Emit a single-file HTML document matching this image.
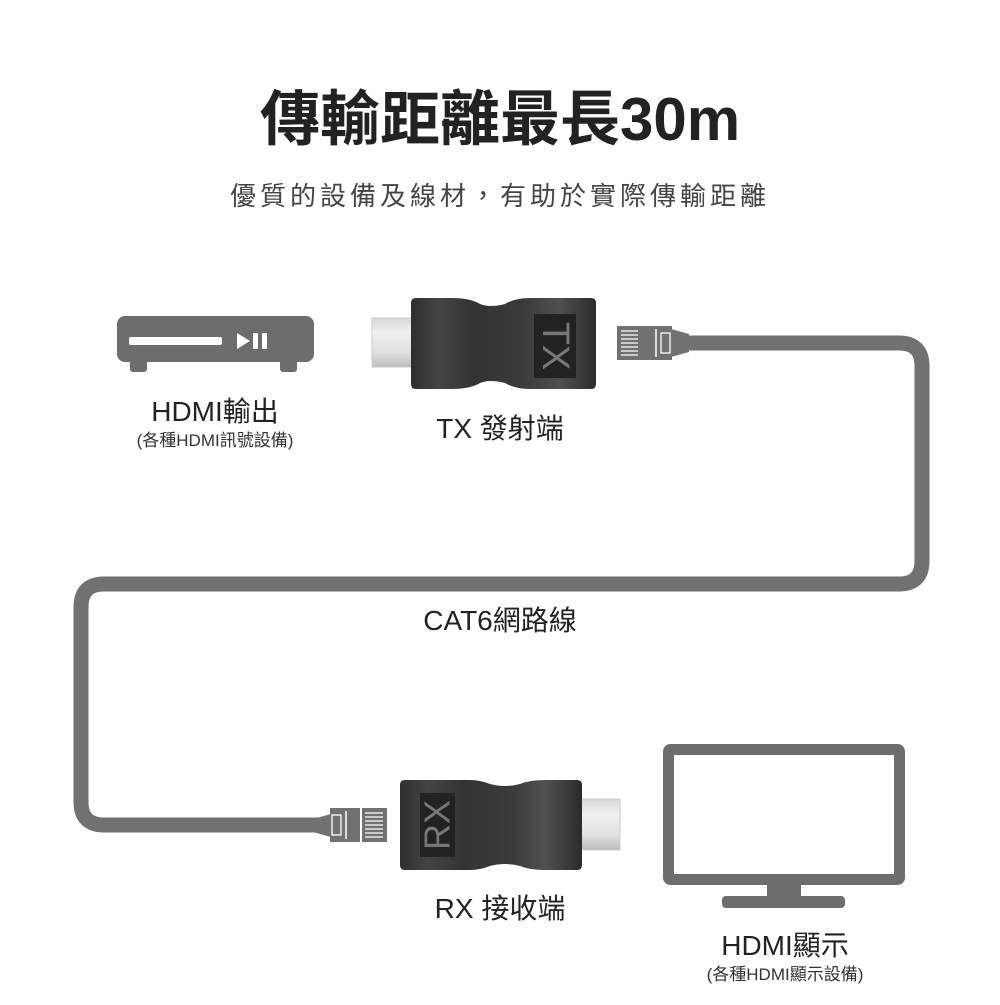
<!DOCTYPE html>
<html><head><meta charset="utf-8"><style>
body{margin:0;background:#fff;}
.t{font-family:"Liberation Sans","Noto Sans CJK TC",sans-serif;}
</style></head><body>
<svg width="1000" height="1000" viewBox="0 0 1000 1000" xmlns="http://www.w3.org/2000/svg">
<defs>
<linearGradient id="body" x1="0" y1="0" x2="1" y2="0">
<stop offset="0" stop-color="#2e2e2e"/><stop offset="0.15" stop-color="#444"/><stop offset="0.35" stop-color="#333"/><stop offset="0.6" stop-color="#3a3a3a"/><stop offset="0.8" stop-color="#505050"/><stop offset="1" stop-color="#2b2b2b"/>
</linearGradient>
<linearGradient id="plug" x1="0" y1="0" x2="0" y2="1">
<stop offset="0" stop-color="#d8d8d8"/><stop offset="0.3" stop-color="#f0f0f0"/><stop offset="0.7" stop-color="#e0e0e0"/><stop offset="1" stop-color="#bdbdbd"/>
</linearGradient>
</defs>
<text class="t" x="500" y="140" font-size="60" font-weight="bold" fill="#222" text-anchor="middle">傳輸距離最長30m</text>
<text class="t" x="500" y="205" font-size="26" fill="#444" text-anchor="middle" letter-spacing="4">優質的設備及線材，有助於實際傳輸距離</text>

<!-- set-top box -->
<rect x="117" y="316" width="197" height="46" rx="8" fill="#6d6d6d"/>
<rect x="130" y="355" width="17" height="17" rx="3" fill="#6d6d6d"/>
<rect x="280" y="355" width="17" height="17" rx="3" fill="#6d6d6d"/>
<rect x="129" y="337" width="93" height="8" rx="2" fill="#fff"/>
<polygon points="237,333 237,349 250,341" fill="#fff"/>
<rect x="253" y="333" width="5" height="16" rx="1" fill="#fff"/>
<rect x="262" y="333" width="5" height="16" rx="1" fill="#fff"/>

<!-- cable -->
<path d="M680,343 H899 Q922,343 922,366 V561 Q922,584 899,584 H104 Q81,584 81,607 V802 Q81,825 104,825 H330" fill="none" stroke="#717171" stroke-width="15"/>

<!-- TX plug -->
<rect x="617" y="326" width="25" height="34" fill="#717171"/>
<g stroke="#fff" stroke-width="1.3">
<line x1="621" y1="331" x2="638" y2="331"/><line x1="621" y1="335" x2="638" y2="335"/><line x1="621" y1="339" x2="638" y2="339"/><line x1="621" y1="343" x2="638" y2="343"/><line x1="621" y1="347" x2="638" y2="347"/><line x1="621" y1="351" x2="638" y2="351"/><line x1="621" y1="355" x2="638" y2="355"/>
</g>
<rect x="642" y="326" width="30" height="34" fill="#717171"/>
<line x1="656" y1="329" x2="656" y2="357" stroke="#fff" stroke-width="1.5"/>
<rect x="661" y="333" width="9" height="20" fill="none" stroke="#fff" stroke-width="1.3"/>
<polygon points="671,329 689,334 689,352 671,357" fill="#717171"/>

<!-- TX adapter -->
<rect x="372" y="318" width="44" height="49" fill="url(#plug)" stroke="#ccc"/>
<path d="M416,298 H452 Q470,298 480,304 Q490,308 505,304 Q515,298 530,298 H591 Q596,298 596,303 V384 Q596,389 591,389 H530 Q515,389 505,383 Q490,379 480,383 Q470,389 452,389 H416 Q411,389 411,384 V303 Q411,298 416,298 Z" fill="url(#body)"/>
<rect x="534" y="314" width="42" height="64" fill="#222"/>
<text class="t" x="555" y="346" font-size="38" fill="#777" text-anchor="middle" dominant-baseline="central" transform="rotate(90 555 346)">TX</text>

<!-- RX plug -->
<polygon points="331,814 313,819 313,832 331,837" fill="#717171"/>
<rect x="330" y="808" width="30" height="34" fill="#717171"/>
<rect x="332" y="815" width="9" height="20" fill="none" stroke="#fff" stroke-width="1.3"/>
<line x1="346" y1="811" x2="346" y2="839" stroke="#fff" stroke-width="1.5"/>
<rect x="362" y="808" width="25" height="34" fill="#717171"/>
<g stroke="#fff" stroke-width="1.3">
<line x1="365" y1="813" x2="383" y2="813"/><line x1="365" y1="817" x2="383" y2="817"/><line x1="365" y1="821" x2="383" y2="821"/><line x1="365" y1="825" x2="383" y2="825"/><line x1="365" y1="829" x2="383" y2="829"/><line x1="365" y1="833" x2="383" y2="833"/><line x1="365" y1="837" x2="383" y2="837"/>
</g>

<!-- RX adapter -->
<rect x="580" y="799" width="40" height="51" fill="url(#plug)" stroke="#ccc"/>
<path d="M405,780 H470 Q480,780 490,784 Q505,788 520,784 Q530,780 545,780 H577 Q582,780 582,785 V865 Q582,870 577,870 H545 Q530,870 520,866 Q505,862 490,866 Q480,870 470,870 H405 Q400,870 400,865 V785 Q400,780 405,780 Z" fill="url(#body)"/>
<rect x="420" y="793" width="35" height="64" fill="#222"/>
<text class="t" x="437" y="825" font-size="36" fill="#777" text-anchor="middle" dominant-baseline="central" transform="rotate(-90 437 825)">RX</text>

<!-- monitor -->
<rect x="668.5" y="749.5" width="231" height="130" rx="2" fill="#fff" stroke="#6d6d6d" stroke-width="11"/>
<rect x="767" y="884" width="34" height="14" fill="#6d6d6d"/>
<rect x="722" y="896" width="123" height="12" rx="4" fill="#6d6d6d"/>

<!-- labels -->
<text class="t" x="215" y="421" font-size="28" fill="#222" text-anchor="middle">HDMI輸出</text>
<text class="t" x="215" y="446" font-size="17" fill="#333" text-anchor="middle">(各種HDMI訊號設備)</text>
<text class="t" x="500" y="438" font-size="28" fill="#222" text-anchor="middle">TX 發射端</text>
<text class="t" x="500" y="630" font-size="28" fill="#222" text-anchor="middle">CAT6網路線</text>
<text class="t" x="500" y="918" font-size="28" fill="#222" text-anchor="middle">RX 接收端</text>
<text class="t" x="785" y="955" font-size="28" fill="#222" text-anchor="middle">HDMI顯示</text>
<text class="t" x="785" y="980" font-size="17" fill="#333" text-anchor="middle">(各種HDMI顯示設備)</text>
</svg>
</body></html>
